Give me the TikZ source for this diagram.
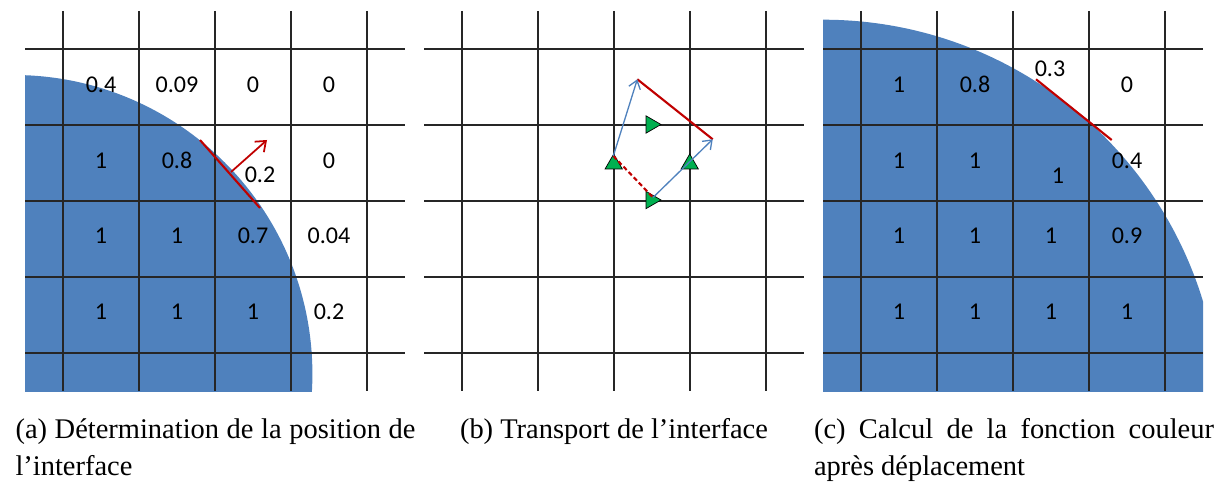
\documentclass[tikz,border=0pt]{standalone}
\usepackage{fontspec}
\setmainfont{Liberation Serif}
\newfontfamily\cellfont{Carlito}
\usetikzlibrary{arrows.meta, positioning, shapes.geometric}
\definecolor{fluid}{HTML}{4F81BD}
\definecolor{iface}{HTML}{C00000}
\definecolor{face}{HTML}{00B050}

\begin{document}
\begin{tikzpicture}[x=0.02cm, y=-0.02cm,
    gridline/.style={draw=black!85, line width=0.7pt},
    val/.style={font=\cellfont\fontsize{13.7}{16}\selectfont, inner sep=0pt},
    front/.style={draw=iface, line width=1.2pt},
    normal/.style={-{Straight Barb[length=1.8mm, width=2.8mm]}, draw=iface, line width=1pt},
    vel/.style={-{Straight Barb[length=1.6mm, width=2.4mm]}, draw=fluid, line width=0.75pt},
    tri/.style={regular polygon, regular polygon sides=3, draw=black, line width=0.4pt,
                fill=face, minimum size=0.4cm, inner sep=0pt},
    legende/.style={font=\fontsize{16.2}{20.9}\selectfont, inner sep=0pt, anchor=base}]
  \useasboundingbox (0,0) rectangle (1222,486);

  % phase 1 (disques)
  \begin{scope}
    \clip (25,11) rectangle (405,391);
    \fill[fluid] (13.4,374) circle (299);
  \end{scope}
  \begin{scope}
    \clip (823,11) rectangle (1203,391);
    \fill[fluid] (823,416.7) circle (397);
  \end{scope}

  % maillages
  \foreach \dx in {0,399,798} {
    \foreach \k in {0,...,4} {
      \draw[gridline] (\dx+63+76*\k,11) -- ++(0,380);
      \draw[gridline] (\dx+25,49+76*\k) -- ++(380,0);
    }
  }

  % (a) position de l'interface
  \foreach \v [count=\c] in {0.4,0.09,0,0}
    \node[val] (a1\c) at (25+76*\c,84.5) {\v};
  \node[val] (a21) at (101,160.5) {1};
  \node[val] (a22) at (177,160.5) {0.8};
  \node[val] (a23) at (260,175) {0.2};
  \node[val] (a24) at (329,160.5) {0};
  \foreach \v [count=\c] in {1,1,0.7,0.04}
    \node[val] (a3\c) at (25+76*\c,236) {\v};
  \foreach \v [count=\c] in {1,1,1,0.2}
    \node[val] (a4\c) at (25+76*\c,312) {\v};
  \coordinate (fa1) at (200,140);
  \coordinate (fa2) at (260,208);
  \coordinate (ma) at (231,172);
  \coordinate (na) at (267,140);
  \draw[front] (fa1) -- (fa2);
  \draw[normal] (ma) -- (na);

  % (b) transport
  \node[tri] (ua) at (613.7,164) {};
  \node[tri] (ub) at (689.7,164) {};
  \node[tri, shape border rotate=-90] (ra) at (651,124.5) {};
  \node[tri, shape border rotate=-90] (rb) at (651,200) {};
  \coordinate (p0) at (613.3,156);
  \coordinate (p1) at (637.3,79.3);
  \coordinate (q0) at (653,197.5);
  \coordinate (q1) at (712.7,139.3);
  \draw[front, dash pattern=on 2.6pt off 1.6pt] (p0) -- (q0);
  \draw[front] (p1) -- (q1);
  \draw[vel] (p0) -- (p1);
  \draw[vel] (q0) -- (q1);

  % (c) nouvelle fonction couleur
  \node[val] (c11) at (899,84.5) {1};
  \node[val] (c12) at (975,84.5) {0.8};
  \node[val] (c13) at (1050,68.3) {0.3};
  \node[val] (c14) at (1127,84.5) {0};
  \node[val] (c21) at (899,160.5) {1};
  \node[val] (c22) at (975,160.5) {1};
  \node[val] (c23) at (1058,175.7) {1};
  \node[val] (c24) at (1127,160.5) {0.4};
  \foreach \v [count=\c] in {1,1,1,0.9}
    \node[val] (c3\c) at (823+76*\c,236) {\v};
  \foreach \v [count=\c] in {1,1,1,1}
    \node[val] (c4\c) at (823+76*\c,312) {\v};
  \coordinate (fc1) at (1036,79.3);
  \coordinate (fc2) at (1111.7,140);
  \draw[front] (fc1) -- (fc2);

  % legendes
  \node[legende, text width=8cm, align=justify] (capa) at (215.5,438.3)
    {(a) Détermination de la position de \linebreak l’interface};
  \node[legende] (capb) at (614,438.3) {(b) Transport de l’interface};
  \node[legende, text width=8cm, align=justify] (capc) at (1014,438.3)
    {(c) Calcul de la fonction couleur \linebreak après déplacement};
\end{tikzpicture}
\end{document}
